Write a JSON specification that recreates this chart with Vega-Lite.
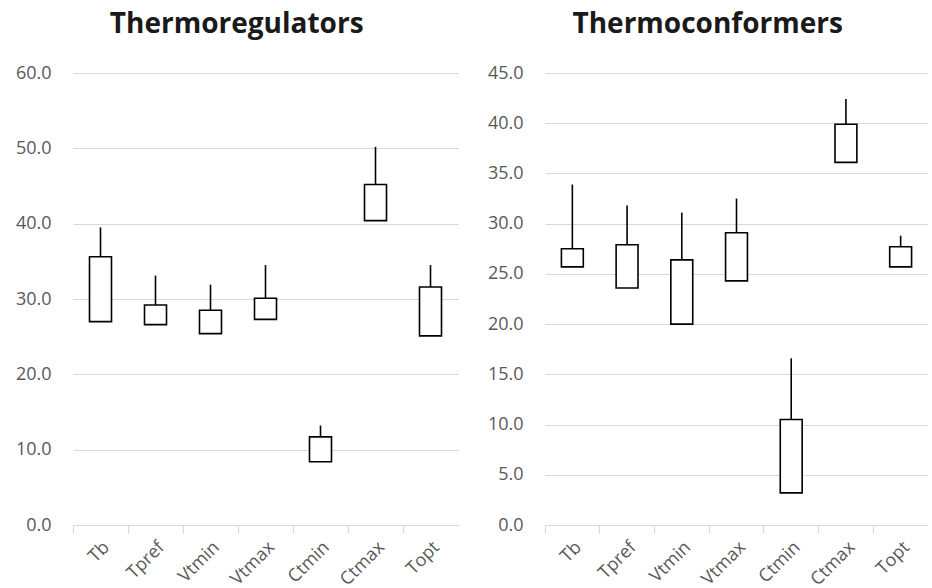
{
  "$schema": "https://vega.github.io/schema/vega-lite/v6.json",
  "padding": {"left": 15, "top": 11, "right": 0, "bottom": 0},
  "background": "white",
  "spacing": 29,
  "config": {
    "font": "Open Sans",
    "view": {"stroke": null},
    "axis": {
      "labelFont": "Open Sans",
      "labelFontSize": 18,
      "labelColor": "#595959",
      "gridColor": "#d9d9d9",
      "gridWidth": 1.2,
      "domainColor": "#d9d9d9",
      "domainWidth": 1.2,
      "tickColor": "#d9d9d9",
      "tickWidth": 1.2,
      "title": null
    },
    "axisY": {"domain": false, "ticks": false, "labelPadding": 22, "format": ".1f"},
    "axisX": {"grid": false, "labelAngle": -45, "tickSize": 8, "bandPosition": 0, "labelPadding": 5},
    "title": {"font": "Open Sans", "fontSize": 28, "fontWeight": "bold", "color": "#1a1a1a", "anchor": "middle", "frame": "bounds", "offset": 25}
  },
  "datasets": {
    "boxes": [
      {"panel": "Thermoregulators", "var": "Tb", "low": 27.0, "high": 35.6, "max": 39.5},
      {"panel": "Thermoregulators", "var": "Tpref", "low": 26.6, "high": 29.2, "max": 33.1},
      {"panel": "Thermoregulators", "var": "Vtmin", "low": 25.4, "high": 28.5, "max": 31.9},
      {"panel": "Thermoregulators", "var": "Vtmax", "low": 27.3, "high": 30.1, "max": 34.5},
      {"panel": "Thermoregulators", "var": "Ctmin", "low": 8.4, "high": 11.7, "max": 13.2},
      {"panel": "Thermoregulators", "var": "Ctmax", "low": 40.4, "high": 45.2, "max": 50.2},
      {"panel": "Thermoregulators", "var": "Topt", "low": 25.1, "high": 31.6, "max": 34.5},
      {"panel": "Thermoconformers", "var": "Tb", "low": 25.7, "high": 27.5, "max": 33.9},
      {"panel": "Thermoconformers", "var": "Tpref", "low": 23.6, "high": 27.9, "max": 31.8},
      {"panel": "Thermoconformers", "var": "Vtmin", "low": 20.0, "high": 26.4, "max": 31.1},
      {"panel": "Thermoconformers", "var": "Vtmax", "low": 24.3, "high": 29.1, "max": 32.5},
      {"panel": "Thermoconformers", "var": "Ctmin", "low": 3.2, "high": 10.5, "max": 16.6},
      {"panel": "Thermoconformers", "var": "Ctmax", "low": 36.1, "high": 39.9, "max": 42.4},
      {"panel": "Thermoconformers", "var": "Topt", "low": 25.7, "high": 27.7, "max": 28.8}
    ]
  },
  "hconcat": [
    {
      "title": "Thermoregulators",
      "data": {"name": "boxes"},
      "transform": [{"filter": "datum.panel === 'Thermoregulators'"}],
      "width": 385,
      "height": 452,
      "encoding": {
        "x": {"field": "var", "type": "nominal", "sort": ["Tb", "Tpref", "Vtmin", "Vtmax", "Ctmin", "Ctmax", "Topt"], "scale": {"paddingInner": 0, "paddingOuter": 0}}
      },
      "layer": [
        {
          "mark": {"type": "rule", "color": "#000000", "strokeWidth": 1.6},
          "encoding": {
            "y": {"field": "high", "type": "quantitative", "scale": {"domain": [0, 60], "nice": false}, "axis": {"values": [0, 10, 20, 30, 40, 50, 60]}},
            "y2": {"field": "max"}
          }
        },
        {
          "mark": {"type": "bar", "fill": "#ffffff", "stroke": "#000000", "strokeWidth": 1.6, "width": {"band": 0.4}},
          "encoding": {
            "y": {"field": "low", "type": "quantitative"},
            "y2": {"field": "high"}
          }
        }
      ]
    },
    {
      "title": "Thermoconformers",
      "data": {"name": "boxes"},
      "transform": [{"filter": "datum.panel === 'Thermoconformers'"}],
      "width": 383,
      "height": 452,
      "encoding": {
        "x": {"field": "var", "type": "nominal", "sort": ["Tb", "Tpref", "Vtmin", "Vtmax", "Ctmin", "Ctmax", "Topt"], "scale": {"paddingInner": 0, "paddingOuter": 0}}
      },
      "layer": [
        {
          "mark": {"type": "rule", "color": "#000000", "strokeWidth": 1.6},
          "encoding": {
            "y": {"field": "high", "type": "quantitative", "scale": {"domain": [0, 45], "nice": false}, "axis": {"values": [0, 5, 10, 15, 20, 25, 30, 35, 40, 45]}},
            "y2": {"field": "max"}
          }
        },
        {
          "mark": {"type": "bar", "fill": "#ffffff", "stroke": "#000000", "strokeWidth": 1.6, "width": {"band": 0.4}},
          "encoding": {
            "y": {"field": "low", "type": "quantitative"},
            "y2": {"field": "high"}
          }
        }
      ]
    }
  ]
}
